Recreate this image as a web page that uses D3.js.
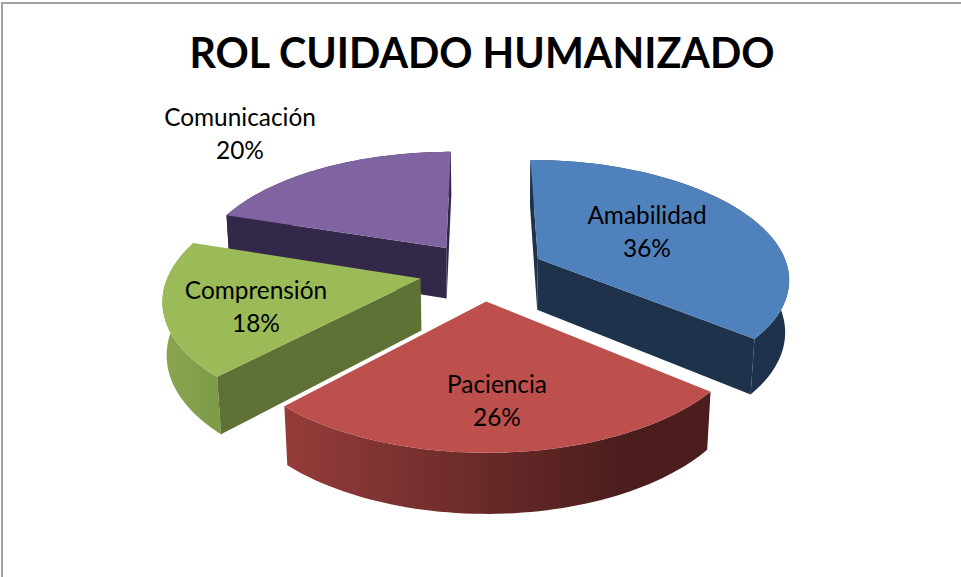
<!DOCTYPE html>
<html><head><meta charset="utf-8">
<script src="https://cdnjs.cloudflare.com/ajax/libs/d3/7.8.5/d3.min.js"></script>
<style>html,body{margin:0;padding:0;background:#fff}svg{display:block}</style></head>
<body><svg id="c" width="961" height="577"></svg>
<script>
const categories = ["Amabilidad","Paciencia","Comprensión","Comunicación"];
const values = [36,26,18,20];
const percentLabels = ["36%","26%","18%","20%"];
const titleText = "ROL CUIDADO HUMANIZADO";

const topColors = ["#4f81bd","#bd4f4c","#9bbb59","#8064a2"];
const cutColors = ["#1e324c","#4b1e1d","#5f7135","#33284a"];
const wallStops = [["#1e324c","#1e324c"],["#953c3a","#4b1e1d"],["#8aa64f","#7d9a48"],["#33284a","#33284a"]];
const wallRange = [[530,790],[285,620],[160,222],[225,450]];
const drawOrder = [3,2,0,1];
const labelPos = [[647,216],[497,385],[256,291],[240,118]];

const W=961,H=577;
const cx=482,cy=271,R=251,b=117.5,k=0.154,m=0.013,h=52.5,explode=0.25;

const svg=d3.select("#c");
const defs=svg.append("defs");
svg.append("path").attr("d",`M2,${H}V3H${W}`).attr("fill","none").attr("stroke","#a3a3a3").attr("stroke-width",2);

const pie=d3.pie().sort(null).value(d=>d).startAngle(0).endAngle(2*Math.PI);
const arcs=pie(values);

// perspective projection of ground coordinates (X right, Y toward viewer, Z down)
function project(X,Y,Z){
  const s=1/(1-k*Y+m*Z);
  return [cx+R*X*s, cy+(b*Y+h*Z)*s];
}
const line=d3.line().curve(d3.curveLinear);
function signedArea(p){
  return d3.sum(p,(q,j)=>{const n=p[(j+1)%p.length];return q[0]*n[1]-n[0]*q[1];});
}

arcs.forEach((a,i)=>{
  const g=defs.append("linearGradient").attr("id","wall"+i).attr("gradientUnits","userSpaceOnUse")
    .attr("x1",wallRange[i][0]).attr("x2",wallRange[i][1]).attr("y1",0).attr("y2",0);
  g.append("stop").attr("offset",0).attr("stop-color",wallStops[i][0]);
  g.append("stop").attr("offset",1).attr("stop-color",wallStops[i][1]);
});

drawOrder.forEach(i=>{
  const a=arcs[i];
  const mid=(a.startAngle+a.endAngle)/2;
  const ox=explode*Math.sin(mid), oy=-explode*Math.cos(mid);
  const steps=d3.range(0,61).map(t=>a.startAngle+(a.endAngle-a.startAngle)*t/60);
  const rim=z=>steps.map(t=>project(ox+Math.sin(t),oy-Math.cos(t),z));
  const apex=z=>project(ox,oy,z);
  const gr=svg.append("g").attr("class","slice");
  // outer wall
  gr.append("path").attr("d",line(rim(0).concat(rim(1).reverse()))+"Z")
    .attr("fill",`url(#wall${i})`);
  // cut faces, only those turned toward the viewer
  [[steps[0],-1],[steps[60],1]].forEach(([t,sign])=>{
    const e=z=>project(ox+Math.sin(t),oy-Math.cos(t),z);
    const poly=[apex(0),e(0),e(1),apex(1)];
    if(signedArea(poly)*sign>0)
      gr.append("path").attr("d",line(poly)+"Z").attr("fill",cutColors[i]);
  });
  // top
  gr.append("path").attr("d",line([apex(0)].concat(rim(0)))+"Z").attr("fill",topColors[i]);
});

svg.append("text").attr("x",482).attr("y",68).attr("text-anchor","middle")
  .attr("font-family","Lato, sans-serif").attr("font-weight",700).attr("font-size",41.2).attr("fill","#000").text(titleText);

categories.forEach((c,i)=>{
  const t=svg.append("text").attr("text-anchor","middle").attr("font-family","Lato, sans-serif")
    .attr("font-size",24.4).attr("fill","#000");
  t.append("tspan").attr("x",labelPos[i][0]).attr("y",labelPos[i][1]+8).text(c);
  t.append("tspan").attr("x",labelPos[i][0]).attr("y",labelPos[i][1]+41).text(percentLabels[i]);
});
</script></body></html>
